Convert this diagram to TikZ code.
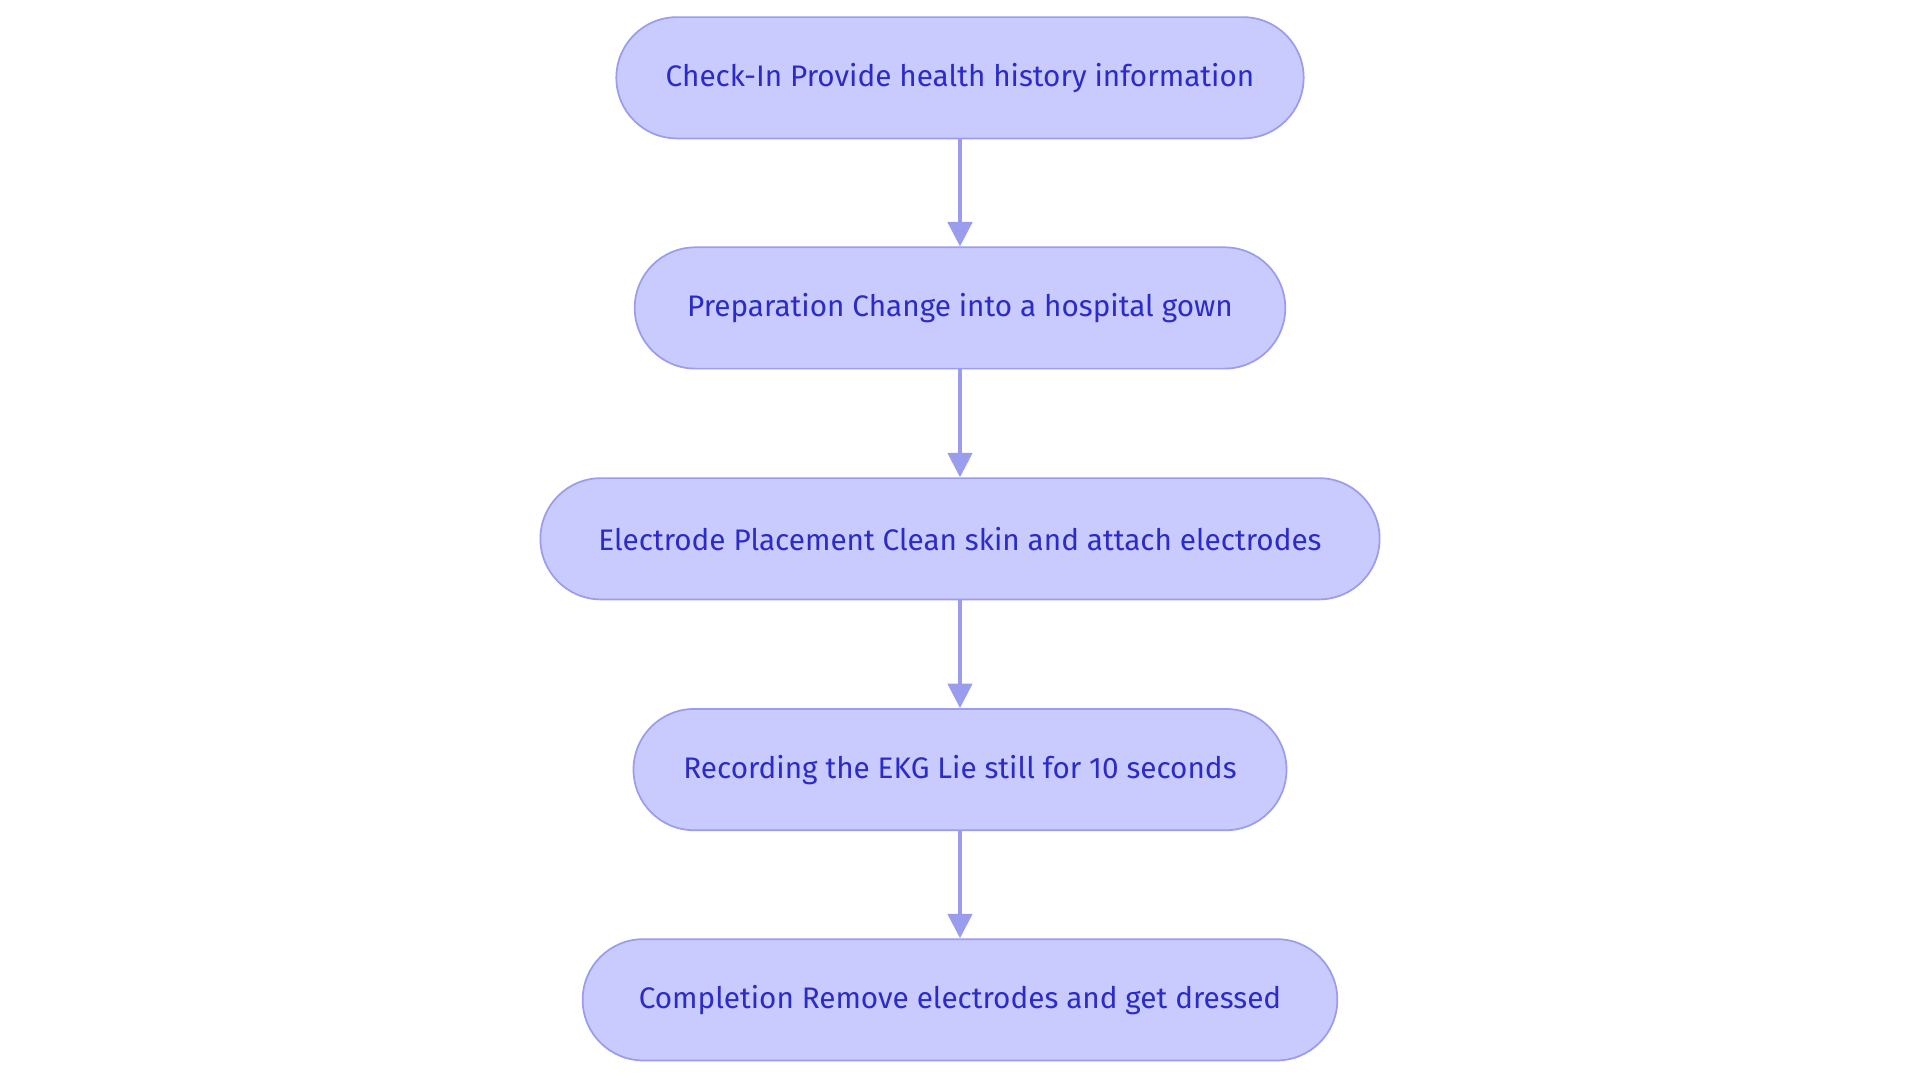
\documentclass[tikz,border=0pt]{standalone}
\usepackage{fontspec}
\setmainfont{Fira Sans}
\usetikzlibrary{arrows.meta}
\definecolor{nfill}{HTML}{C9CAFD}
\definecolor{ndraw}{HTML}{9A9CEE}
\definecolor{ntext}{HTML}{2B2BC8}
\begin{document}
\begin{tikzpicture}[x=0.01cm,y=-0.01cm,
  box/.style={draw=ndraw,fill=nfill,line width=0.4pt,rounded corners=0.495cm,minimum height=0.99cm,text=ntext,font=\fontsize{6.9}{8}\selectfont,inner sep=0pt},
  arr/.style={draw=ndraw,line width=0.8pt,-{Triangle[length=0.2cm,width=0.2cm]}}]
\useasboundingbox (0,0) rectangle (1568,884);
\node[box,minimum width=5.61cm] (a) at (784,63.5) {Check-In Provide health history information};
\node[box,minimum width=5.31cm] (b) at (784,251.5) {Preparation Change into a hospital gown};
\node[box,minimum width=6.85cm] (c) at (784,440) {Electrode Placement Clean skin and attach electrodes};
\node[box,minimum width=5.33cm] (d) at (784,628.5) {Recording the EKG Lie still for 10 seconds};
\node[box,minimum width=6.16cm] (e) at (784,816.5) {Completion Remove electrodes and get dressed};
\draw[arr] (a) -- (b);
\draw[arr] (b) -- (c);
\draw[arr] (c) -- (d);
\draw[arr] (d) -- (e);
\end{tikzpicture}
\end{document}
